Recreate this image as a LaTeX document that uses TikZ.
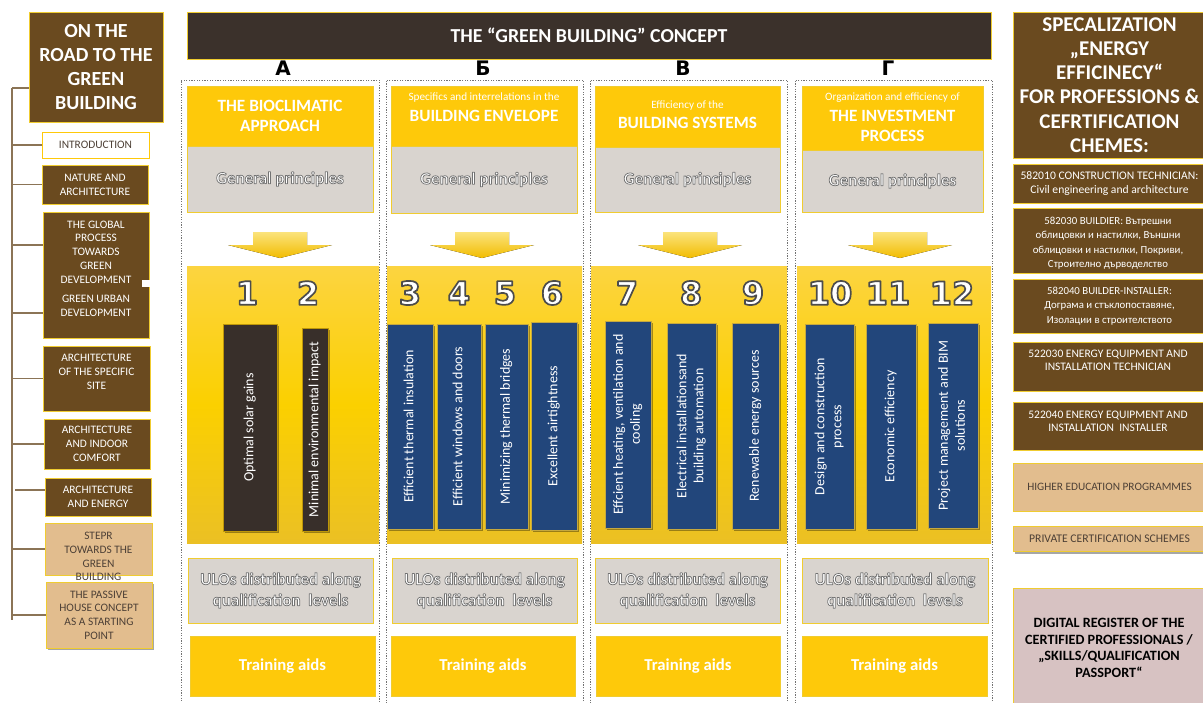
\documentclass[tikz,border=0pt]{standalone}
\usepackage{fontspec}
\setmainfont{Carlito}
\newfontfamily\heavyfont{DejaVu Sans}
\usetikzlibrary{shadows}
\definecolor{brn}{HTML}{6A4A1F}
\definecolor{tanc}{HTML}{E2BD8E}
\definecolor{ylw}{HTML}{FEC90A}
\definecolor{ylwline}{HTML}{F0CC30}
\definecolor{gry}{HTML}{D9D4CF}
\definecolor{hdrc}{HTML}{3B312B}
\definecolor{blu}{HTML}{22467B}
\definecolor{drk}{HTML}{382F2A}
\definecolor{pnk}{HTML}{D7C2C2}
\definecolor{trunkc}{HTML}{8B7456}
\definecolor{txtgry}{HTML}{4D4036}
\definecolor{ylTop}{HTML}{FCD440}
\definecolor{ylMid}{HTML}{FBD000}
\definecolor{ylBot}{HTML}{EBC024}
\definecolor{arTop}{HTML}{FBE37C}
\definecolor{arBot}{HTML}{F2BC00}
\newcommand\bx[7]{\node[#6, anchor=north west, minimum width={(#4-#2)*1pt}, minimum height={(#5-#3)*1pt}] (#1) at (#2,#3) {#7};}
\newcommand\rt[1]{\rotatebox{90}{\begin{tabular}{@{}c@{}}#1\end{tabular}}}
% outlined text: fill + stroke rendering mode
\newcommand\gp[1]{\special{pdf:literal 2 Tr 0.75 w 0.45 G 1 j}#1\special{pdf:literal 0 Tr}}
\newcommand\nm[1]{\special{pdf:literal 2 Tr 1.7 w 0.3 G 1 j}#1\special{pdf:literal 0 Tr}}
\newcommand\darrow[2]{\fill[top color=arTop, bottom color=arBot] (#2-27,232) -- (#2+27,232) -- (#2+27,245) -- (#2+52,245) -- (#2,258) -- (#2-52,245) -- (#2-27,245) -- cycle;}
\begin{document}
\begin{tikzpicture}[x=1pt,y=-1pt,
  box/.style={inner sep=0pt, outer sep=0pt, line width=0.8pt, align=center},
  brownbox/.style={box, fill=brn, draw=ylwline, text=white},
  tanbox/.style={box, fill=tanc, draw=ylwline, text=txtgry},
  ybox/.style={box, fill=ylw, draw=ylwline},
  gbox/.style={box, fill=gry, draw=ylwline},
  panel/.style={box, draw=none, top color=ylTop, bottom color=ylBot, middle color=ylMid},
  colframe/.style={box, draw=black!55, line width=0.6pt, dash pattern=on 1.3pt off 1.3pt},
  lfont/.style={font=\fontsize{11.4}{13.8}\selectfont},
  lt/.style={inner sep=0pt, align=center, lfont},
  rtx/.style={inner sep=0pt, align=center, font=\fontsize{10.8}{14.5}\selectfont},
  ttl/.style={inner sep=0pt, align=center, text=white, font=\bfseries\fontsize{17.2}{20}\selectfont},
  sml/.style={inner sep=0pt, align=center, text=white, font=\fontsize{11.2}{12}\selectfont},
  gpfont/.style={font=\bfseries\fontsize{17}{21}\selectfont},
  letter/.style={inner sep=0pt, font=\heavyfont\bfseries\fontsize{20}{20}\selectfont},
  number/.style={inner sep=0pt, text=white, font=\heavyfont\bfseries\fontsize{32}{32}\selectfont},
  barshadow/.style={drop shadow={shadow xshift=1.8pt, shadow yshift=-1.8pt, opacity=0.35, fill=black}},
  barfont/.style={font=\fontsize{14}{17}\selectfont},
  darkbar/.style={box, fill=drk, draw=ylw!75!black, line width=0.6pt, text=white, barshadow, barfont},
  bluebar/.style={box, fill=blu, draw=ylw!55!gray, line width=0.6pt, text=white, barshadow, barfont},
  branch/.style={draw=trunkc, line width=1.4pt}
]
\useasboundingbox (0,0) rectangle (1203,702);

% ---------------- left column ----------------
\coordinate (trunkTop) at (12,88);
\coordinate (trunkBot) at (12,620);
\bx{title}{29}{12}{163}{122}{brownbox, font=\bfseries\fontsize{20}{24}\selectfont}{ON THE\\ROAD TO THE\\GREEN\\BUILDING}
\bx{intro}{42}{132}{149}{158}{box, fill=white, draw=ylw, text=txtgry, lfont}{INTRODUCTION}
\bx{nature}{42}{165}{148}{204}{brownbox, lfont}{NATURE AND\\ARCHITECTURE}
\bx{global}{43}{212}{149}{338}{brownbox}{}
\fill[white] (142,280) rectangle (150,287);
\node[lt, text=white] (gt1) at (96,252) {THE GLOBAL\\PROCESS\\TOWARDS\\GREEN\\DEVELOPMENT};
\node[lt, text=white] (gt2) at (96,306) {GREEN URBAN\\DEVELOPMENT};
\bx{site}{43}{346}{150}{411}{brownbox}{}
\node[lt, text=white] (sitet) at (96.5,372) {ARCHITECTURE\\OF THE SPECIFIC\\SITE};
\bx{indoor}{44}{419}{150}{469}{brownbox, lfont}{ARCHITECTURE\\AND INDOOR\\COMFORT}
\bx{energy}{45}{478}{151}{516}{brownbox, lfont}{ARCHITECTURE\\AND ENERGY}
\bx{stepr}{45}{523}{152}{575}{tanbox}{}
\node[lt, text=txtgry] (steprt) at (98.5,556.5) {STEPR\\TOWARDS THE\\GREEN\\BUILDING};
\bx{passive}{46}{582}{152}{648}{tanbox, drop shadow={shadow xshift=2pt, shadow yshift=-2pt, opacity=0.35, fill=black}, font=\fontsize{11.4}{13.6}\selectfont}{THE PASSIVE\\HOUSE CONCEPT\\AS A STARTING\\POINT}

\draw[branch] (trunkTop) -- (trunkBot);
\draw[branch] (trunkTop) -- (trunkTop -| title.west);
\draw[branch] (trunkTop |- intro.west) -- (intro.west);
\draw[branch] (trunkTop |- nature.west) -- (nature.west);
\coordinate (bg1) at (43,245);
\coordinate (bg2) at (43,313);
\draw[branch] (trunkTop |- bg1) -- (bg1);
\draw[branch] (trunkTop |- bg2) -- (bg2);
\draw[branch] (trunkTop |- site.west) -- (site.west);
\draw[branch] (trunkTop |- indoor.west) -- (indoor.west);
\coordinate (be) at (45,490);
\coordinate (bes) at (15,490);
\draw[branch] (bes) -- (be);
\draw[branch] (trunkTop |- stepr.west) -- (stepr.west);
\draw[branch] (trunkTop |- passive.west) -- (passive.west);

% ---------------- header ----------------
\bx{hdr}{187}{12}{991}{59}{box, fill=hdrc, draw=ylwline, text=white, font=\bfseries\fontsize{19.8}{22}\selectfont}{THE “GREEN BUILDING” CONCEPT}
\node[letter] (LA) at (283,68) {А};
\node[letter] (LB) at (483,68) {Б};
\node[letter] (LC) at (683,68) {В};
\node[letter] (LD) at (888,68) {Г};

% ---------------- title boxes ----------------
\bx{tA}{187}{86}{373}{146}{ybox}{}
\bx{tB}{391}{86}{577}{146}{ybox}{}
\bx{tC}{595}{86}{780}{147}{ybox}{}
\bx{tD}{802}{86}{983}{150}{ybox}{}
\node[ttl] (tAt) at (280,116) {THE BIOCLIMATIC\\APPROACH};
\node[sml] (tBs) at (484,98) {Specifics and interrelations in the};
\node[ttl] (tBt) at (484,116) {BUILDING ENVELOPE};
\node[sml] (tCs) at (687.5,106) {Efficiency of the};
\node[ttl] (tCt) at (687.5,123) {BUILDING SYSTEMS};
\node[sml] (tDs) at (892.5,98) {Organization and efficiency of};
\node[ttl] (tDt) at (892.5,125.5) {THE INVESTMENT\\PROCESS};

\bx{gA}{187}{146}{373}{212}{gbox, text=white, gpfont}{\gp{General principles}}
\bx{gB}{391}{146}{577}{213}{gbox, text=white, gpfont}{\gp{General principles}}
\bx{gC}{595}{147}{780}{212}{gbox, text=white, gpfont}{\gp{General principles}}
\bx{gD}{802}{150}{983}{212}{gbox, text=white, gpfont}{\gp{General principles}}

% ---------------- arrows ----------------
\darrow{aA}{280}
\darrow{aB}{482}
\darrow{aC}{690}
\darrow{aD}{900}

% ---------------- panels ----------------
\bx{pA}{187}{266}{379}{543}{panel}{}
\bx{pB}{387}{266}{582}{543}{panel}{}
\bx{pC}{591}{266}{787}{543}{panel}{}
\bx{pD}{797}{266}{991}{543}{panel}{}

\node[number] (n1) at (247,293) {\nm{1}};
\node[number] (n2) at (308,293) {\nm{2}};
\node[number] (n3) at (410,293) {\nm{3}};
\node[number] (n4) at (459,293) {\nm{4}};
\node[number] (n5) at (505,293) {\nm{5}};
\node[number] (n6) at (552,293) {\nm{6}};
\node[number] (n7) at (627,293) {\nm{7}};
\node[number] (n8) at (691,293) {\nm{8}};
\node[number] (n9) at (753,293) {\nm{9}};
\node[number] (n10) at (830,293) {\nm{10}};
\node[number] (n11) at (888,293) {\nm{11}};
\node[number] (n12) at (952,293) {\nm{12}};

\bx{b1}{223}{324}{277}{531}{darkbar}{\rt{Optimal solar gains}}
\bx{b2}{302}{328}{328}{531}{darkbar}{\rt{Minimal environmental impact}}
\bx{b3}{387}{324}{433}{529}{bluebar}{\rt{Efficient thermal insulation}}
\bx{b4}{437}{324}{481}{529}{bluebar}{\rt{Efficient windows and doors}}
\bx{b5}{485}{324}{528}{529}{bluebar}{\rt{Minimizing thermal bridges}}
\bx{b6}{531}{322}{577}{530}{bluebar}{\rt{Excellent airtightness}}
\bx{b7}{605}{321}{651}{528}{bluebar}{\rt{Effcient heating, ventilation and\\cooling}}
\bx{b8}{667}{323}{716}{529}{bluebar}{\rt{Electrical installationsand\\building automation}}
\bx{b9}{732}{323}{779}{529}{bluebar}{\rt{Renewable energy sources}}
\bx{b10}{805}{324}{854}{529}{bluebar}{\rt{Design and construction\\process}}
\bx{b11}{866}{324}{916}{529}{bluebar}{\rt{Economic efficiency}}
\bx{b12}{928}{323}{978}{528}{bluebar}{\rt{Project management and BIM\\solutions}}

% ---------------- ULOs & training ----------------
\bx{uA}{188}{558}{373}{623}{gbox, text=white, gpfont}{\gp{ULOs distributed along}\\\gp{qualification\ \ levels}}
\bx{uB}{392}{558}{577}{623}{gbox, text=white, gpfont}{\gp{ULOs distributed along}\\\gp{qualification\ \ levels}}
\bx{uC}{595}{558}{780}{623}{gbox, text=white, gpfont}{\gp{ULOs distributed along}\\\gp{qualification\ \ levels}}
\bx{uD}{802}{558}{988}{623}{gbox, text=white, gpfont}{\gp{ULOs distributed along}\\\gp{qualification\ \ levels}}
\bx{trA}{190}{636}{375}{696}{ybox, text=white, font=\bfseries\fontsize{16.7}{18}\selectfont}{Training aids}
\bx{trB}{391}{636}{575}{696}{ybox, text=white, font=\bfseries\fontsize{16.7}{18}\selectfont}{Training aids}
\bx{trC}{596}{636}{780}{696}{ybox, text=white, font=\bfseries\fontsize{16.7}{18}\selectfont}{Training aids}
\bx{trD}{802}{636}{987}{696}{ybox, text=white, font=\bfseries\fontsize{16.7}{18}\selectfont}{Training aids}

% ---------------- column frames ----------------
\bx{colA}{181}{80}{379}{720}{colframe}{}
\bx{colB}{386}{80}{583}{720}{colframe}{}
\bx{colC}{590}{80}{787}{720}{colframe}{}
\bx{colD}{795}{80}{992}{720}{colframe}{}

% ---------------- right column ----------------
\bx{spec}{1013}{12}{1206}{158}{brownbox, font=\bfseries\fontsize{21}{24.2}\selectfont}{SPECALIZATION\\„ENERGY\\EFFICINECY“\\FOR PROFESSIONS \&\\CEFRTIFICATION\\CHEMES:}
\bx{r1}{1013}{164}{1206}{203}{brownbox, font=\fontsize{11.6}{14.5}\selectfont}{582010 CONSTRUCTION TECHNICIAN:\\Civil engineering and architecture}
\bx{r2}{1013}{208}{1206}{273}{brownbox}{}
\node[rtx, text=white] (r2t) at (1108,243) {582030 BUILDIER: Вътрешни\\облицовки и настилки, Външни\\облицовки и настилки, Покриви,\\Строително дърводелство};
\bx{r3}{1013}{279}{1206}{333}{brownbox, font=\fontsize{10.8}{14.8}\selectfont}{582040 BUILDER-INSTALLER:\\Дограма и стъклопоставяне,\\Изолации в строителството}
\bx{r4}{1013}{342}{1206}{391}{brownbox}{}
\node[rtx, text=white, font=\fontsize{11.5}{13.2}\selectfont] (r4t) at (1108,360.5) {522030 ENERGY EQUIPMENT AND\\INSTALLATION TECHNICIAN};
\bx{r5}{1013}{402}{1206}{450}{brownbox}{}
\node[rtx, text=white, font=\fontsize{11.5}{13.2}\selectfont] (r5t) at (1108,421.5) {522040 ENERGY EQUIPMENT AND\\INSTALLATION\ \ INSTALLER};
\bx{r6}{1013}{463}{1206}{511}{tanbox, font=\fontsize{11.3}{13}\selectfont}{HIGHER EDUCATION PROGRAMMES}
\bx{r7}{1013}{526}{1206}{551}{tanbox, drop shadow={shadow xshift=1.5pt, shadow yshift=-2.5pt, opacity=0.35, fill=black}, font=\fontsize{11.7}{13}\selectfont}{PRIVATE CERTIFICATION SCHEMES}
\bx{r8}{1013}{588}{1206}{712}{box, fill=pnk, draw=ylwline}{}
\node[inner sep=0pt, align=center, font=\bfseries\fontsize{14.2}{16.5}\selectfont] (r8t) at (1109,648) {DIGITAL REGISTER OF THE\\CERTIFIED PROFESSIONALS /\\„SKILLS/QUALIFICATION\\PASSPORT“};
\end{tikzpicture}
\end{document}
